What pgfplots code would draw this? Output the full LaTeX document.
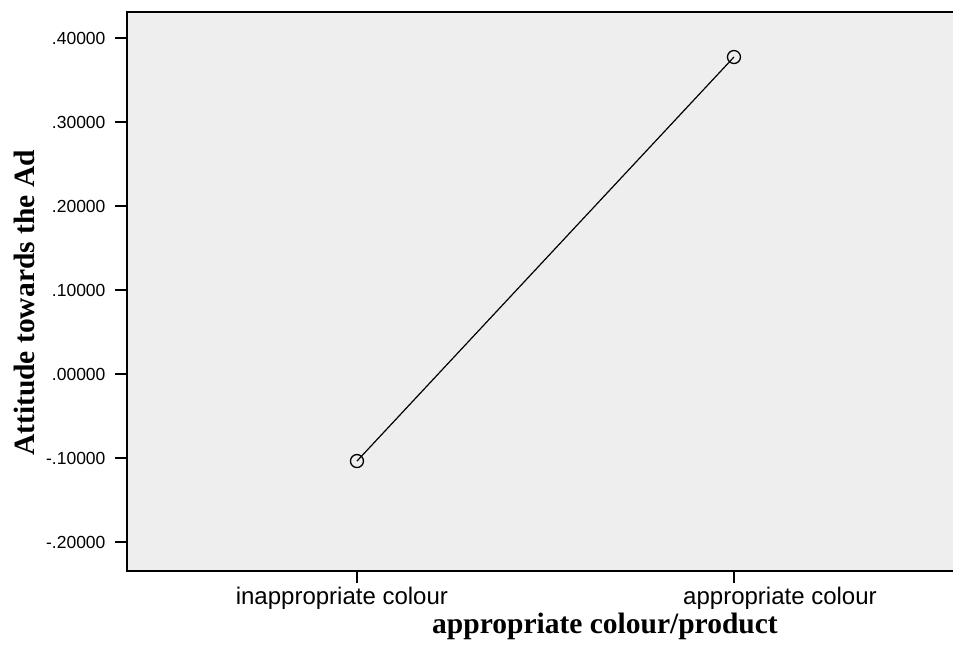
\documentclass[border=0pt]{standalone}
\usepackage{fontspec}
\setmainfont{Liberation Sans}
\newfontfamily\timesfont{Liberation Serif}
\usepackage{pgfplots}
\pgfplotsset{compat=1.18}
\definecolor{bgc}{RGB}{238,238,238}
\begin{document}
\begin{tikzpicture}
\begin{axis}[
  scale only axis,
  width=826pt, height=559pt,
  xmin=-0.610, xmax=1.581,
  ymin=-0.2345, ymax=0.431,
  axis line style={draw=none},
  axis background/.style={fill=bgc},
  xtick={0,1},
  xticklabels={,},
  extra x ticks={-0.040,1.122},
  extra x tick labels={inappropriate colour, appropriate colour},
  extra x tick style={major tick length=0pt, tick style={draw=none}},
  ytick={-0.2,-0.1,0,0.1,0.2,0.3,0.4},
  yticklabels={-.20000,-.10000,.00000,.10000,.20000,.30000,.40000},
  tick align=outside,
  major tick length=12pt,
  tick style={black, line width=1.3pt},
  xtick pos=bottom, ytick pos=left,
  x tick label style={font=\fontsize{24}{28}\selectfont, yshift=-13pt},
  y tick label style={font=\fontsize{17.5}{20}\selectfont, xshift=-6pt},
  xlabel={appropriate colour/product},
  ylabel={Attitude towards the Ad},
  every axis x label/.style={at={(axis description cs:0.5787,-0.0998)}, anchor=center, font=\timesfont\bfseries\fontsize{29.5}{34}\selectfont},
  every axis y label/.style={at={(axis description cs:-0.1247,0.4794)}, anchor=center, rotate=90, font=\timesfont\bfseries\fontsize{29.5}{34}\selectfont},
  clip=false,
]
\addplot[black, line width=1.2pt, mark=o, mark size=6.5pt, mark options={line width=1.3pt}] coordinates {(0,-0.1036) (1,0.3774)};
\draw[black, line width=1.6pt] (rel axis cs:1,1) -- (rel axis cs:0,1) -- (rel axis cs:0,0) -- (rel axis cs:1,0);
\end{axis}
\pgfresetboundingbox
\path[use as bounding box] (current axis.south west) ++(-127pt,-77pt) rectangle ([yshift=12pt]current axis.north east);
\end{tikzpicture}
\end{document}
